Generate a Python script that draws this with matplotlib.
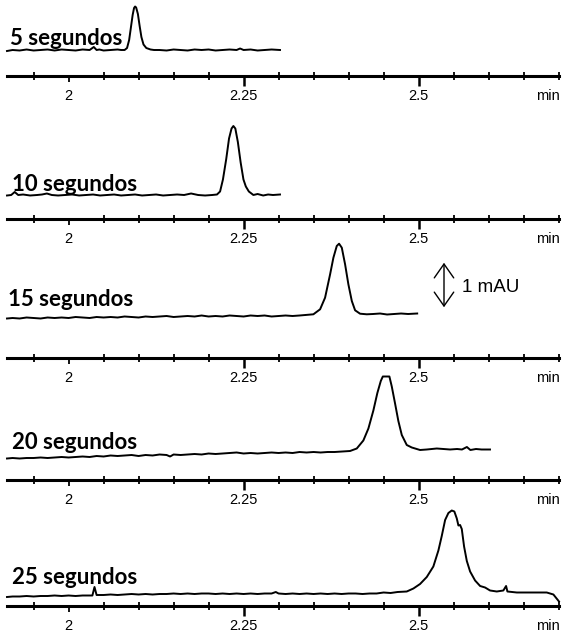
import matplotlib
matplotlib.use("Agg")
import matplotlib.pyplot as plt
from matplotlib.patches import FancyArrowPatch

# ---------------- data (time in min, signal in mAU above local baseline) ----------------
labels = ["5 segundos", "10 segundos", "15 segundos", "20 segundos", "25 segundos"]

t1 = [1.912, 1.92, 1.93, 1.94, 1.95, 1.96, 1.97, 1.98, 1.99, 2.00, 2.01, 2.02, 2.03, 2.036, 2.04, 2.044, 2.05, 2.06, 2.07, 2.075,
      2.080, 2.0835, 2.0865, 2.089, 2.0915, 2.0935, 2.095, 2.0965, 2.099, 2.1015, 2.104, 2.107, 2.111, 2.117, 2.122,
      2.13, 2.14, 2.15, 2.16, 2.17, 2.18, 2.19, 2.20, 2.21, 2.22, 2.23, 2.24, 2.245, 2.25, 2.26, 2.27, 2.28, 2.29, 2.302]
s1 = [-0.02, 0.0, -0.01, 0.01, -0.01, 0.0, 0.01, -0.01, 0.01, 0.0, -0.01, 0.01, 0.0, 0.06, 0.0, 0.01, -0.01, 0.0, 0.01, 0.0,
      0.0, 0.04, 0.2, 0.45, 0.7, 0.84, 0.87, 0.85, 0.72, 0.48, 0.26, 0.11, 0.04, 0.01, 0.0,
      0.0, -0.01, 0.01, 0.0, -0.01, 0.01, 0.0, 0.01, -0.01, 0.0, 0.01, 0.0, 0.03, 0.0, 0.01, -0.01, 0.0, 0.01, 0.0]

t2 = [1.912, 1.918, 1.923, 1.928, 1.935, 1.945, 1.955, 1.962, 1.969, 1.976, 1.985, 1.995, 2.005, 2.015, 2.025,
      2.035, 2.045, 2.055, 2.065, 2.075, 2.085, 2.095, 2.105, 2.115, 2.125, 2.135, 2.145, 2.155, 2.165, 2.175,
      2.185, 2.195, 2.205, 2.212,
      2.2164, 2.2205, 2.2252, 2.2292, 2.2328, 2.2354, 2.2382, 2.2418, 2.2458, 2.2498, 2.2532, 2.2575, 2.264,
      2.27, 2.278, 2.285, 2.292, 2.302]
s2 = [-0.01, 0.0, 0.06, 0.0, 0.01, -0.01, 0.0, 0.01, 0.03, 0.0, -0.01, 0.0, 0.01, -0.01, 0.0,
      0.01, -0.01, 0.0, 0.01, -0.01, 0.0, 0.01, -0.01, 0.0, 0.01, -0.01, 0.0, 0.01, 0.0, 0.03,
      0.0, -0.01, 0.0, 0.01,
      0.07, 0.31, 0.72, 1.13, 1.33, 1.38, 1.33, 1.06, 0.65, 0.31, 0.17, 0.07, 0.0,
      0.02, -0.01, 0.01, 0.0, 0.01]

t3 = [1.912, 1.92, 1.93, 1.94, 1.95, 1.96, 1.97, 1.98, 1.99, 2.00, 2.01, 2.02, 2.03, 2.04, 2.05, 2.06, 2.07, 2.08,
      2.09, 2.10, 2.11, 2.12, 2.13, 2.14, 2.15, 2.16, 2.17, 2.18, 2.19, 2.20, 2.21, 2.22, 2.23, 2.24, 2.25, 2.26,
      2.27, 2.28, 2.29, 2.30, 2.31, 2.32, 2.33,
      2.3497, 2.3593, 2.3664, 2.3736, 2.3783, 2.3831, 2.3864, 2.3903, 2.395, 2.3997, 2.4046, 2.4093, 2.4164, 2.426,
      2.435, 2.445, 2.455, 2.465, 2.475, 2.485, 2.498]
s3 = [-0.05, -0.04, -0.05, -0.03, -0.04, -0.05, -0.03, -0.04, -0.03, -0.04, -0.02, -0.03, -0.04, -0.02, -0.03, -0.02, -0.03, -0.01,
      -0.02, -0.03, -0.01, -0.02, -0.01, 0.0, -0.02, -0.01, 0.0, -0.01, 0.01, -0.01, 0.0, -0.01, 0.01, 0.0, -0.01, 0.01,
      0.0, 0.01, -0.01, 0.0, 0.01, 0.0, 0.01,
      0.034, 0.134, 0.366, 0.834, 1.166, 1.4, 1.446, 1.366, 1.034, 0.634, 0.3, 0.114, 0.046, 0.034,
      0.04, 0.05, 0.03, 0.04, 0.05, 0.04, 0.05]

t4 = [1.912, 1.92, 1.93, 1.94, 1.95, 1.96, 1.97, 1.98, 1.99, 2.00, 2.01, 2.02, 2.03, 2.04, 2.05, 2.06, 2.07, 2.08,
      2.09, 2.10, 2.11, 2.12, 2.13, 2.14, 2.145, 2.15, 2.16, 2.17, 2.18, 2.19, 2.20, 2.21, 2.22, 2.23, 2.24, 2.25,
      2.26, 2.27, 2.28, 2.29, 2.30, 2.31, 2.32, 2.33, 2.34, 2.35, 2.36, 2.37, 2.38,
      2.4021, 2.4117, 2.4211, 2.4283, 2.4354, 2.4411, 2.446, 2.4489, 2.4583, 2.4617, 2.4664, 2.4711, 2.476, 2.4831,
      2.4903, 2.5021, 2.5117, 2.526, 2.545,
      2.555, 2.562, 2.569, 2.574, 2.582, 2.59, 2.602]
s4 = [-0.13, -0.12, -0.13, -0.12, -0.12, -0.11, -0.12, -0.11, -0.10, -0.11, -0.10, -0.09, -0.10, -0.08, -0.09, -0.07, -0.08, -0.07,
      -0.06, -0.08, -0.06, -0.07, -0.05, -0.06, -0.09, -0.05, -0.06, -0.05, -0.04, -0.05, -0.03, -0.04, -0.03, -0.02, -0.01, -0.03,
      -0.02, -0.03, -0.02, -0.01, -0.02, -0.01, -0.02, 0.0, -0.01, 0.0, -0.01, 0.0, 0.0,
      0.02, 0.07, 0.23, 0.47, 0.83, 1.18, 1.42, 1.51, 1.51, 1.31, 0.97, 0.62, 0.34, 0.14,
      0.09, 0.04, 0.05, 0.07, 0.05,
      0.06, 0.05, 0.10, 0.04, 0.06, 0.05, 0.05]

t5 = [1.912, 1.92, 1.93, 1.94, 1.95, 1.96, 1.97, 1.98, 1.99, 2.00, 2.01, 2.02, 2.03, 2.034, 2.037, 2.040,
      2.05, 2.06, 2.07, 2.08, 2.09, 2.10, 2.11, 2.12, 2.13, 2.14, 2.15, 2.16, 2.17, 2.18, 2.19, 2.20, 2.21, 2.22,
      2.23, 2.24, 2.25, 2.26, 2.27, 2.28, 2.29, 2.296, 2.30, 2.31, 2.32, 2.33, 2.34, 2.35, 2.36, 2.37, 2.38, 2.39,
      2.40, 2.41, 2.42, 2.43, 2.44, 2.45, 2.46, 2.47,
      2.4831, 2.4926, 2.5021, 2.5117, 2.5211, 2.5283, 2.5331, 2.5379, 2.5426, 2.5474, 2.5511, 2.5546, 2.5569,
      2.5593, 2.5617, 2.565, 2.5689, 2.5736, 2.5807, 2.5879, 2.595, 2.6021, 2.6117, 2.6211, 2.625, 2.6269,
      2.6403, 2.664, 2.6831, 2.6926, 2.7006]
s5 = [-0.08, -0.07, -0.07, -0.06, -0.07, -0.06, -0.06, -0.05, -0.06, -0.05, -0.06, -0.05, -0.05, -0.05, 0.12, -0.04,
      -0.04, -0.03, -0.04, -0.03, -0.02, -0.03, -0.02, -0.03, -0.02, -0.02, -0.01, -0.02, -0.01, -0.02, -0.01, -0.01, -0.02, -0.01,
      -0.02, -0.01, -0.02, -0.01, -0.02, -0.01, -0.01, 0.02, -0.01, -0.02, -0.01, -0.02, -0.01, -0.02, -0.01, -0.02, -0.01, -0.02,
      -0.01, -0.01, -0.02, -0.01, -0.01, 0.01, 0.0, 0.02,
      0.03, 0.09, 0.18, 0.32, 0.53, 0.85, 1.14, 1.46, 1.60, 1.65, 1.63, 1.49, 1.35,
      1.36, 1.28, 0.93, 0.64, 0.43, 0.25, 0.14, 0.11, 0.05, 0.03, 0.05, 0.14, 0.03,
      0.01, 0.01, 0.01, -0.03, -0.17]

times = [t1, t2, t3, t4, t5]
signals = [s1, s2, s3, s4, s5]

major_ticks = [2.0, 2.25, 2.5]
major_labels = ["2", "2.25", "2.5"]
minor_ticks = [1.95, 2.05, 2.10, 2.15, 2.20, 2.30, 2.35, 2.40, 2.45, 2.55, 2.60, 2.65, 2.70]
axis_unit = "min"
scale_label = "1 mAU"

# ---------------- layout (pixels) ----------------
W, H = 564, 638
X0, X1 = 7, 559
T0, T1 = 1.912, 2.7006
PX_PER_MAU = 50.0
AX_H = 120
base_y = [50, 195, 316, 452, 593]
axis_y = [76, 219, 358, 480, 606]
label_xy = [(10, 45), (12, 191), (8, 306), (12, 449), (12, 584)]

fig = plt.figure(figsize=(W / 100, H / 100), dpi=100)

for i in range(5):
    ay = axis_y[i]
    ax = fig.add_axes([X0 / W, 1 - ay / H, (X1 - X0) / W, AX_H / H])
    ax.patch.set_alpha(0)
    ax.set_xlim(T0, T1)
    ax.set_ylim(0, AX_H / PX_PER_MAU)
    off = (ay - base_y[i]) / PX_PER_MAU
    ax.plot(times[i], [v + off for v in signals[i]], color="black", lw=1.4,
            solid_joinstyle="round", clip_on=False)
    for sp in ["top", "left", "right"]:
        ax.spines[sp].set_visible(False)
    ax.spines["bottom"].set_linewidth(2.2)
    ax.set_yticks([])
    ax.set_xticks(major_ticks)
    ax.set_xticklabels(major_labels, fontfamily="Liberation Sans", fontsize=10.5)
    ax.set_xticks(minor_ticks, minor=True)
    ax.tick_params(axis="x", which="major", direction="out", length=7.2, width=1.8, pad=2.5)
    ax.tick_params(axis="x", which="minor", direction="inout", length=5.5, width=1.3)
    ax.xaxis.get_major_ticks()[0].tick1line.set_markersize(4.5)
    ax.xaxis.get_major_ticks()[0].tick1line.set_markeredgewidth(1.3)
    fig.text(536 / W, 1 - (ay + 13) / H, axis_unit, fontfamily="Liberation Sans", fontsize=10.5,
             ha="left", va="top")
    lx, ly = label_xy[i]
    fig.text(lx / W, 1 - ly / H, labels[i], fontfamily="Lato", fontweight="bold", fontsize=16,
             ha="left", va="baseline")

arrow = FancyArrowPatch((444 / W, 1 - 260 / H), (444 / W, 1 - 310 / H), transform=fig.transFigure,
                        arrowstyle="<->,head_length=0.5,head_width=0.35", mutation_scale=20,
                        color="black", lw=1.0)
fig.add_artist(arrow)
fig.text(462 / W, 1 - 287 / H, scale_label, fontfamily="Liberation Sans", fontsize=13.5,
         ha="left", va="center")

fig.savefig("out.png", dpi=100)
